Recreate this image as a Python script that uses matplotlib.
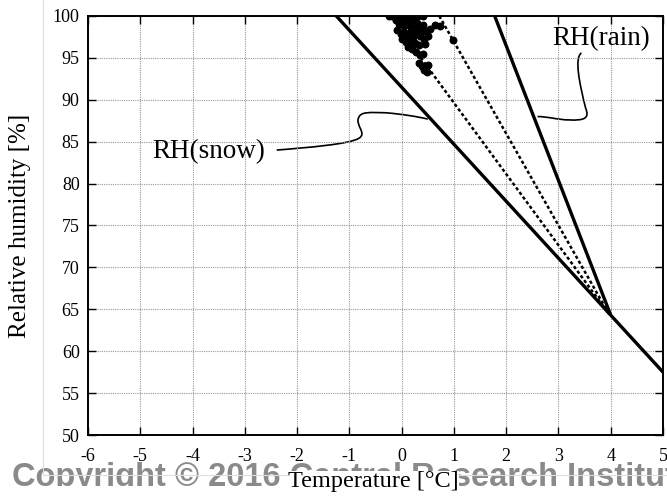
import numpy as np
import matplotlib
matplotlib.use('Agg')
import matplotlib.pyplot as plt
from matplotlib.path import Path
from matplotlib.patches import PathPatch
from matplotlib.lines import Line2D
from matplotlib.transforms import Bbox, TransformedBbox

plt.rcParams['font.family'] = ['Liberation Serif', 'DejaVu Serif']
plt.rcParams['axes.unicode_minus'] = False

# boundary lines
snow_T = [-1.25, 5.0]
snow_RH = [100.0, 57.5]
rain_T = [1.78, 4.0]
rain_RH = [100.0, 64.3]
# dotted lines
dot1_T = [-0.22, 3.96]
dot1_RH = [100.0, 64.5]
dot2_T = [0.72, 3.96]
dot2_RH = [100.0, 64.5]

# observed points
obs_T = [-0.25, -0.18, -0.10, -0.03, 0.03, 0.10, 0.17, 0.25, 0.32, 0.40,
         -0.10, -0.05, 0.00, 0.05, 0.10, 0.15, 0.20, 0.25, 0.30, 0.35,
         0.40, 0.45, -0.08, -0.02, 0.05, 0.12, 0.18, 0.22, 0.28, 0.35,
         0.42, 0.50, 0.55, 0.00, 0.08, 0.15, 0.25, 0.33, 0.45, 0.12,
         0.20, 0.63, 0.73, 0.98, 0.28, 0.35, 0.40, 0.33, 0.38, 0.45,
         0.50, 0.42, 0.48]
obs_RH = [100.0, 100.0, 100.0, 100.0, 100.0, 100.0, 100.0, 100.0, 100.0, 100.0,
          99.5, 99.0, 99.3, 98.8, 99.4, 98.9, 99.5, 98.7, 99.2, 98.5,
          98.9, 98.2, 98.3, 97.9, 98.1, 97.7, 98.2, 97.5, 97.9, 97.6,
          97.3, 97.6, 98.4, 97.3, 96.9, 97.0, 96.8, 96.5, 96.6, 96.3,
          96.1, 98.9, 98.8, 97.1, 95.7, 95.3, 95.5, 94.4, 94.0, 93.8,
          94.2, 93.5, 93.3]

x_ticks = list(range(-6, 6))
y_ticks = list(range(50, 101, 5))

fig = plt.figure(figsize=(6.67, 4.98), dpi=100)
ax = fig.add_axes([88/667, 1 - 435/498, 575/667, 419/498])

ax.set_xlim(-6, 5)
ax.set_ylim(50, 100)
ax.set_xticks(x_ticks)
ax.set_yticks(y_ticks)
ax.grid(True, color='#999999', linestyle=(0, (1, 1)), linewidth=0.8)
ax.tick_params(direction='in', length=6, width=1, top=True, right=True,
               labelsize=13, pad=6)
ax.tick_params(axis='x', pad=9)
for s in ax.spines.values():
    s.set_linewidth(1.4)

ax.plot(snow_T, snow_RH, color='black', linewidth=2.4, solid_capstyle='butt')
ax.plot(rain_T, rain_RH, color='black', linewidth=2.4, solid_capstyle='butt')
ax.plot(dot1_T, dot1_RH, color='black', linewidth=1.8, linestyle=(0, (1.3, 1.0)))
ax.plot(dot2_T, dot2_RH, color='black', linewidth=1.8, linestyle=(0, (1.3, 1.0)))
ax.scatter(obs_T, obs_RH, s=22, color='black', zorder=3, clip_on=True)

# leader lines
rain_verts = [(3.44, 95.6), (3.30, 95.0), (3.40, 92.0), (3.52, 89.0),
              (3.60, 87.8), (3.50, 87.5), (3.20, 87.6),
              (3.00, 87.6), (2.80, 88.0), (2.60, 88.0)]
snow_verts = [(-2.39, 84.0), (-1.8, 84.3), (-1.0, 84.7), (-0.82, 85.4),
              (-0.65, 86.0), (-0.90, 87.0), (-0.82, 87.9),
              (-0.78, 88.6), (-0.60, 88.5), (-0.30, 88.45),
              (0.00, 88.3), (0.30, 88.0), (0.50, 87.7)]
for verts in [rain_verts, snow_verts]:
    codes = [Path.MOVETO] + [Path.CURVE4] * (len(verts) - 1)
    ax.add_patch(PathPatch(Path(verts, codes), facecolor='none',
                           edgecolor='black', linewidth=1.2))

ax.text(3.81, 96.5, 'RH(rain)', fontsize=19.5, ha='center', va='baseline')
ax.text(-3.70, 83.05, 'RH(snow)', fontsize=19.5, ha='center', va='baseline')

ax.set_ylabel('Relative humidity [%]', fontsize=18, va='center')
ax.yaxis.set_label_coords(-0.118, 0.5)
ax.set_xlabel('Temperature [°C]', fontsize=17.5, va='center',
              bbox=dict(facecolor='white', edgecolor='none', boxstyle='square,pad=0'))
ax.xaxis.set_label_coords(0.496, -0.112)

# faint frame of the pasted picture
fig.add_artist(Line2D([43/667, 43/667], [1, 1 - 475/498], color='#dddddd', linewidth=0.8, zorder=-0.5))
fig.add_artist(Line2D([43/667, 1], [1 - 475/498, 1 - 475/498], color='#dddddd', linewidth=0.8, zorder=-0.5))

wm = fig.text(12/667, 12/498, 'Copyright © 2016 Central Research Institute of Electric Power Industry',
              fontsize=23.5, fontweight='bold', family='Liberation Sans', color='#8a8a8a',
              ha='left', va='baseline', zorder=-1)
wm.set_clip_box(TransformedBbox(Bbox([[0, 12/498], [1, 1]]), fig.transFigure))
wm.set_clip_on(True)

fig.savefig('out.png', dpi=100)
